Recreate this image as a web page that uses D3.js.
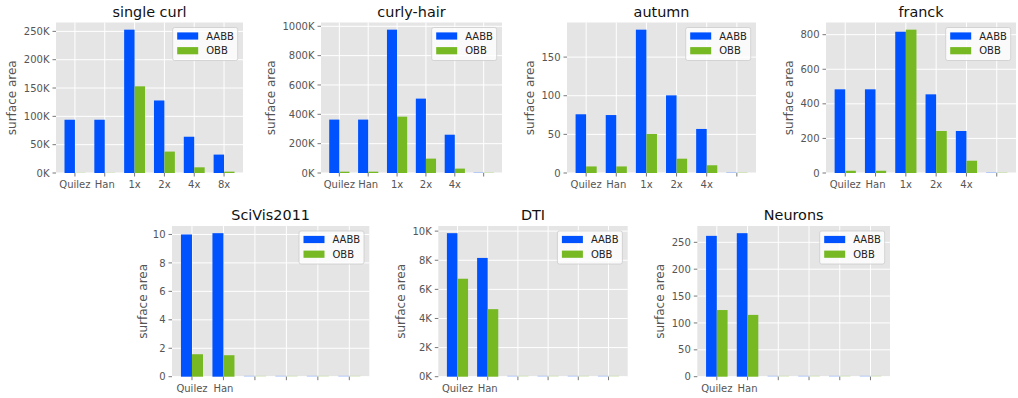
<!DOCTYPE html>
<html>
<head>
<meta charset="utf-8">
<script src="https://cdn.jsdelivr.net/npm/d3@7"></script>
<style>
  html, body { margin: 0; padding: 0; background: #fff; }
  svg { display: block; font-family: "DejaVu Sans", sans-serif; }
</style>
</head>
<body>
<svg id="chart" width="1018" height="398"></svg>
<script>
// ---------------- data ----------------
const seriesNames = ["AABB", "OBB"];
const titles = ["single curl", "curly-hair", "autumn", "franck", "SciVis2011", "DTI", "Neurons"];

const catsSingleCurl = ["Quilez", "Han", "1x", "2x", "4x", "8x"];
const catsScaled = ["Quilez", "Han", "1x", "2x", "4x", ""];
const catsBaseline = ["Quilez", "Han", "", "", "", ""];

const singleCurlAABB = [94000, 94000, 253000, 128000, 64000, 32500];
const singleCurlOBB  = [300, 300, 153000, 37800, 10000, 2400];
const curlyHairAABB  = [364000, 364000, 977000, 507000, 261000, 0];
const curlyHairOBB   = [9000, 9000, 384000, 98000, 30000, 0];
const autumnAABB     = [76, 75, 185.5, 100.5, 57, 0];
const autumnOBB      = [8.5, 8.5, 50.5, 18.5, 10, 0];
const franckAABB     = [484, 484, 817, 455, 243, 0];
const franckOBB      = [13, 13, 829, 243, 71, 0];
const scivisAABB     = [10.0, 10.09, 0, 0, 0, 0];
const scivisOBB      = [1.58, 1.51, 0, 0, 0, 0];
const dtiAABB        = [9860, 8160, 0, 0, 0, 0];
const dtiOBB         = [6730, 4640, 0, 0, 0, 0];
const neuronsAABB    = [262, 267, 0, 0, 0, 0];
const neuronsOBB     = [124, 115, 0, 0, 0, 0];

const ticksSingleCurl = [0, 50000, 100000, 150000, 200000, 250000];
const ticksCurlyHair  = [0, 200000, 400000, 600000, 800000, 1000000];
const ticksAutumn     = [0, 50, 100, 150];
const ticksFranck     = [0, 200, 400, 600, 800];
const ticksScivis     = [0, 2, 4, 6, 8, 10];
const ticksDti        = [0, 2000, 4000, 6000, 8000, 10000];
const ticksNeurons    = [0, 50, 100, 150, 200, 250];

// ---------------- layout ----------------
const layout = [
  {l: 56,    r: 243,   t: 22.5, b: 173,   yl: 12},
  {l: 321,   r: 502,   t: 22.5, b: 173,   yl: 271},
  {l: 567,   r: 756,   t: 22.5, b: 173,   yl: 530},
  {l: 826,   r: 1016,  t: 22.5, b: 173,   yl: 789},
  {l: 172,   r: 369.3, t: 226,  b: 376.7, yl: 143},
  {l: 438.3, r: 627.7, t: 226,  b: 376.7, yl: 400.5},
  {l: 697.3, r: 890,   t: 226,  b: 376.7, yl: 659.5}
];

const panels = [
  {cats: catsSingleCurl, a: singleCurlAABB, o: singleCurlOBB, ticks: ticksSingleCurl, k: true},
  {cats: catsScaled, a: curlyHairAABB, o: curlyHairOBB, ticks: ticksCurlyHair, k: true},
  {cats: catsScaled, a: autumnAABB, o: autumnOBB, ticks: ticksAutumn, k: false},
  {cats: catsScaled, a: franckAABB, o: franckOBB, ticks: ticksFranck, k: false},
  {cats: catsBaseline, a: scivisAABB, o: scivisOBB, ticks: ticksScivis, k: false},
  {cats: catsBaseline, a: dtiAABB, o: dtiOBB, ticks: ticksDti, k: true},
  {cats: catsBaseline, a: neuronsAABB, o: neuronsOBB, ticks: ticksNeurons, k: false}
];

const colors = ["#0052ff", "#77b923"];
const barW = 0.35;
const svg = d3.select("#chart");

panels.forEach((p, i) => {
  const L = layout[i];
  const g = svg.append("g");
  const n = p.cats.length;
  const lo = -barW, hi = (n - 1) + barW;
  const m = (hi - lo) * 0.05;
  const x = d3.scaleLinear().domain([lo - m, hi + m]).range([L.l, L.r]);
  const ymax = d3.max(p.a.concat(p.o)) * 1.05;
  const y = d3.scaleLinear().domain([0, ymax]).range([L.b, L.t]);
  const fmt = p.k ? (d => (d / 1000) + "K") : (d => String(d));

  // background
  g.append("rect").attr("x", L.l).attr("y", L.t)
    .attr("width", L.r - L.l).attr("height", L.b - L.t).attr("fill", "#e5e5e5");

  // grid
  g.selectAll(".gy").data(p.ticks).enter().append("line")
    .attr("x1", L.l).attr("x2", L.r)
    .attr("y1", d => y(d)).attr("y2", d => y(d))
    .attr("stroke", "#fff").attr("stroke-width", 1);
  g.selectAll(".gx").data(d3.range(n)).enter().append("line")
    .attr("x1", d => x(d)).attr("x2", d => x(d))
    .attr("y1", L.t).attr("y2", L.b)
    .attr("stroke", "#fff").attr("stroke-width", 1);

  // bars
  [p.a, p.o].forEach((vals, s) => {
    g.selectAll(".bar" + s).data(vals).enter().append("rect")
      .attr("x", (d, j) => x(j - barW + s * barW))
      .attr("width", x(barW) - x(0))
      .attr("y", d => d > 0 ? y(d) : y(0) - 1)
      .attr("height", d => d > 0 ? y(0) - y(d) : 1)
      .attr("fill", colors[s])
      .attr("opacity", d => d > 0 ? 1 : 0.25);
  });

  // y axis ticks
  const yAxis = g.append("g");
  yAxis.selectAll("line").data(p.ticks).enter().append("line")
    .attr("x1", L.l - 3.5).attr("x2", L.l)
    .attr("y1", d => y(d)).attr("y2", d => y(d))
    .attr("stroke", "#555").attr("stroke-width", 0.8);
  yAxis.selectAll("text").data(p.ticks).enter().append("text")
    .attr("x", L.l - 6.5).attr("y", d => y(d)).attr("dy", "0.36em")
    .attr("text-anchor", "end").attr("font-size", 10).attr("fill", "#555")
    .text(fmt);

  // x axis ticks
  const xAxis = g.append("g");
  xAxis.selectAll("line").data(d3.range(n)).enter().append("line")
    .attr("x1", d => x(d)).attr("x2", d => x(d))
    .attr("y1", L.b).attr("y2", L.b + 3.5)
    .attr("stroke", "#555").attr("stroke-width", 0.8);
  xAxis.selectAll("text").data(p.cats).enter().append("text")
    .attr("x", (d, j) => x(j)).attr("y", L.b + 15)
    .attr("text-anchor", "middle").attr("font-size", 10).attr("fill", "#555")
    .text(d => d);

  // y label
  g.append("text")
    .attr("transform", `translate(${L.yl},${(L.t + L.b) / 2}) rotate(-90)`)
    .attr("text-anchor", "middle").attr("dy", "0.35em")
    .attr("font-size", 12).attr("fill", "#555")
    .text("surface area");

  // title
  g.append("text")
    .attr("x", (L.l + L.r) / 2).attr("y", L.t - 6)
    .attr("text-anchor", "middle").attr("font-size", 14.4).attr("fill", "#111")
    .text(titles[i]);

  // legend
  const lw = 65, lh = 33;
  const lx = L.r - 5.3 - lw, ly = L.t + 5;
  const leg = g.append("g");
  leg.append("rect").attr("x", lx).attr("y", ly).attr("width", lw).attr("height", lh)
    .attr("rx", 2).attr("fill", "#fff").attr("fill-opacity", 0.8)
    .attr("stroke", "#cccccc").attr("stroke-width", 0.8);
  seriesNames.forEach((name, s) => {
    const cy = ly + 8.5 + s * 14.7;
    leg.append("rect").attr("x", lx + 4.5).attr("y", cy - 3.6)
      .attr("width", 21).attr("height", 7.2).attr("fill", colors[s]);
    leg.append("text").attr("x", lx + 33.5).attr("y", cy).attr("dy", "0.36em")
      .attr("font-size", 10).attr("fill", "#222").text(name);
  });
});
</script>
</body>
</html>
